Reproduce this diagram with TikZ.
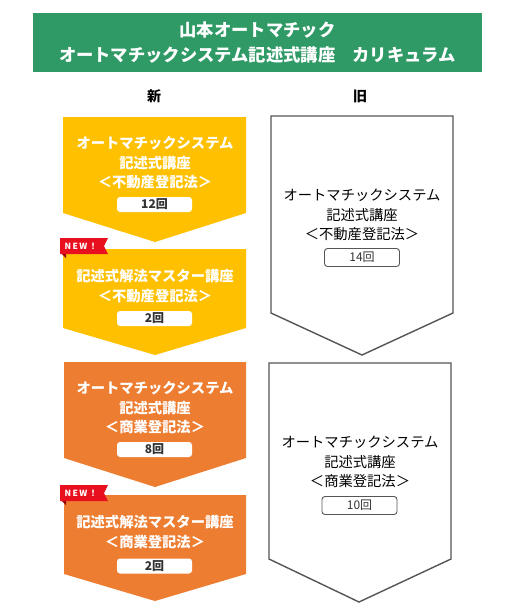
\documentclass[tikz,border=0pt]{standalone}
\usepackage{fontspec}
\usepackage{tikz}
\usetikzlibrary{positioning}
\newfontfamily\jp{Noto Sans CJK JP}
\definecolor{hdrgreen}{RGB}{47,154,102}
\definecolor{newyellow}{RGB}{255,192,0}
\definecolor{neworange}{RGB}{237,125,49}
\definecolor{ribbonred}{RGB}{232,16,30}
\definecolor{ribbondark}{RGB}{150,0,10}
\definecolor{edgegray}{RGB}{85,85,85}

\begin{document}
\begin{tikzpicture}[x=1pt, y=-1pt, every node/.style={font=\jp, align=center, inner sep=0pt},
    coltext/.style={text=white, font=\jp\bfseries\fontsize{14.3}{19.5}\selectfont},
    oldtext/.style={text=black, font=\jp\fontsize{14.3}{19.5}\selectfont},
    cntbox/.style={fill=white, rounded corners=3pt, minimum width=75pt, minimum height=15pt,
        font=\jp\bfseries\fontsize{12}{13}\selectfont, text=black!80},
    oldcnt/.style={cntbox, draw=edgegray, line width=0.9pt, minimum height=18pt,
        font=\jp\fontsize{12}{13}\selectfont},
    oldshape/.style={fill=white, draw=edgegray, line width=1.4pt, line join=miter},
    newtag/.style={text=white, font=\jp\bfseries\fontsize{8.5}{10}\selectfont}]
    \useasboundingbox (0,0) rectangle (514,613);

    % title bar
    \node[fill=hdrgreen, minimum width=449pt, minimum height=59pt, text=white,
        font=\jp\bfseries\fontsize{17.3}{25}\selectfont] (title) at (257.5,42.5)
        {山本オートマチック\\オートマチックシステム記述式講座　カリキュラム};
    \node[font=\jp\bfseries\fontsize{14}{16}\selectfont] (newhead) at (154,96) {新};
    \node[font=\jp\bfseries\fontsize{14}{16}\selectfont] (oldhead) at (360,96) {旧};

    % new curriculum (left)
    \fill[newyellow] (63,117) -- (246,117) -- (246,213) -- (155,242) -- (63,213) -- cycle;
    \fill[newyellow] (63,249) -- (246,249) -- (246,328) -- (155,355) -- (63,328) -- cycle;
    \fill[neworange] (64,362) -- (246,362) -- (246,458) -- (155,487) -- (64,458) -- cycle;
    \fill[neworange] (64,495) -- (246,495) -- (246,574) -- (155,601) -- (64,574) -- cycle;

    \node[coltext] (fudo) at (155,163) {オートマチックシステム\\記述式講座\\＜不動産登記法＞};
    \node[cntbox] (fudocnt) at (154.5,204.5) {12回};
    \node[coltext] (fudomst) at (155,286) {記述式解法マスター講座\\＜不動産登記法＞};
    \node[cntbox] (fudomstcnt) at (154.5,318.5) {2回};
    \node[coltext] (shogyo) at (155,408) {オートマチックシステム\\記述式講座\\＜商業登記法＞};
    \node[cntbox] (shogyocnt) at (154.5,449.5) {8回};
    \node[coltext] (shogyomst) at (155,532) {記述式解法マスター講座\\＜商業登記法＞};
    \node[cntbox] (shogyomstcnt) at (154.5,566) {2回};

    % NEW! ribbons
    \foreach \ty/\nm in {238/tagfudo, 485/tagshogyo} {
        \fill[ribbondark] (60,\ty+14) -- (66,\ty+20) -- (66,\ty+14) -- cycle;
        \fill[ribbonred] (60,\ty) -- (108,\ty) -- (104,\ty+8) -- (108,\ty+16) -- (60,\ty+16) -- cycle;
        \node[newtag] (\nm) at (81,\ty+8) {N\,E\,W\,！};
    }

    % old curriculum (right)
    \draw[oldshape] (271,116) -- (453,116) -- (453,313) -- (362,355) -- (271,313) -- cycle;
    \draw[oldshape] (269,363) -- (451,363) -- (451,559) -- (359,602) -- (269,559) -- cycle;

    \node[oldtext] (oldfudo) at (362,215) {オートマチックシステム\\記述式講座\\＜不動産登記法＞};
    \node[oldcnt] (oldfudocnt) at (362,257.5) {14回};
    \node[oldtext] (oldshogyo) at (360,462) {オートマチックシステム\\記述式講座\\＜商業登記法＞};
    \node[oldcnt] (oldshogyocnt) at (359.5,505.5) {10回};
\end{tikzpicture}
\end{document}
